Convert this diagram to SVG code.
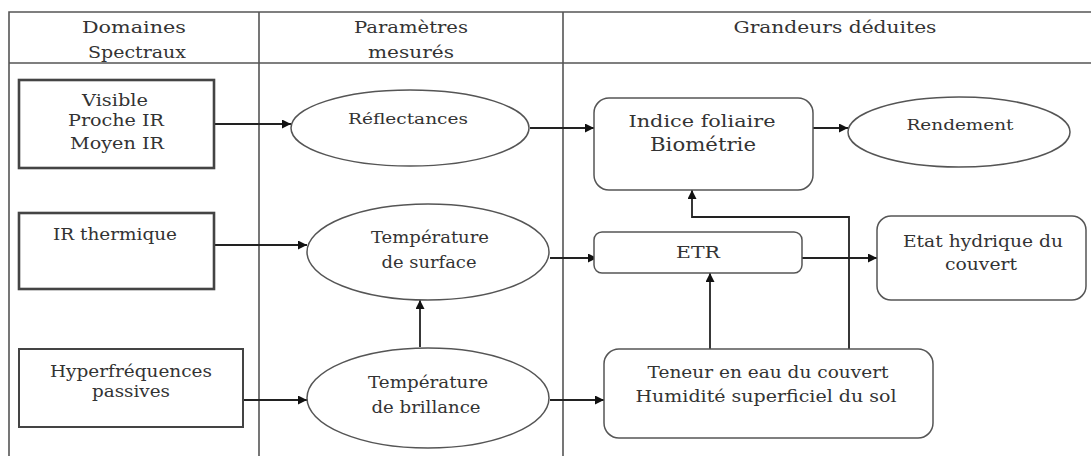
<svg xmlns="http://www.w3.org/2000/svg" width="1091" height="456" viewBox="0 0 1091 456">
  <defs>
    <marker id="arrow" viewBox="0 0 10 10" refX="10" refY="5" markerWidth="11" markerHeight="9" markerUnits="userSpaceOnUse" orient="auto">
      <path d="M0,0 L10,5 L0,10 Z" fill="#111"/>
    </marker>
    <style>
      .lbl { font-size: 16.5px; fill: #333; text-anchor: middle; }
      .grid { stroke: #555; stroke-width: 1.6; fill: none; }
      .src { fill: #fff; stroke: #444; stroke-width: 2.6; }
      .src-thin { fill: #fff; stroke: #444; stroke-width: 2; }
      .ell { fill: #fff; stroke: #555; stroke-width: 1.5; }
      .rbox { fill: #fff; stroke: #555; stroke-width: 1.5; }
      .conn { stroke: #222; stroke-width: 1.8; fill: none; marker-end: url(#arrow); }
      .small { font-size: 15px; }
      .big { font-size: 18.5px; }
    </style>
  </defs>

  <rect width="1091" height="456" fill="#fff"/>

  <g font-family="DejaVu Serif, serif">
  <!-- table frame and column headers -->
  <g id="table">
    <path class="grid" d="M9,456 V12 H1091 M9,63 H1091 M259,12 V456 M563,12 V456"/>
    <text class="lbl" x="134" y="33" textLength="104" lengthAdjust="spacingAndGlyphs">Domaines</text>
    <text class="lbl" x="137" y="58" textLength="98" lengthAdjust="spacingAndGlyphs">Spectraux</text>
    <text class="lbl" x="411" y="33" textLength="114" lengthAdjust="spacingAndGlyphs">Paramètres</text>
    <text class="lbl" x="411" y="58" textLength="86" lengthAdjust="spacingAndGlyphs">mesurés</text>
    <text class="lbl" x="835" y="33" textLength="203" lengthAdjust="spacingAndGlyphs">Grandeurs déduites</text>
  </g>

  <!-- connectors -->
  <g id="connectors">
    <line class="conn" x1="214" y1="124" x2="291" y2="124"/>
    <line class="conn" x1="530" y1="128" x2="594" y2="128"/>
    <line class="conn" x1="813" y1="128" x2="848" y2="128"/>
    <line class="conn" x1="214" y1="245" x2="307" y2="245"/>
    <line class="conn" x1="550" y1="258" x2="597" y2="258"/>
    <line class="conn" x1="802" y1="258" x2="877" y2="258"/>
    <line class="conn" x1="420" y1="347" x2="420" y2="300"/>
    <line class="conn" x1="243" y1="400" x2="307" y2="400"/>
    <line class="conn" x1="550" y1="400" x2="604" y2="400"/>
    <line class="conn" x1="710" y1="349" x2="710" y2="273"/>
    <polyline class="conn" points="849,349 849,217 692,217 692,190"/>
  </g>

  <!-- spectral domains -->
  <g id="visible">
    <rect class="src" x="19" y="80" width="195" height="88"/>
    <text class="lbl" x="115" y="106" textLength="66" lengthAdjust="spacingAndGlyphs">Visible</text>
    <text class="lbl" x="116" y="126" textLength="96" lengthAdjust="spacingAndGlyphs">Proche IR</text>
    <text class="lbl" x="117" y="149" textLength="94" lengthAdjust="spacingAndGlyphs">Moyen IR</text>
  </g>
  <g id="ir-thermique">
    <rect class="src" x="19" y="213" width="195" height="76"/>
    <text class="lbl" x="115" y="240" textLength="124" lengthAdjust="spacingAndGlyphs">IR thermique</text>
  </g>
  <g id="hyperfrequences">
    <rect class="src-thin" x="19" y="349" width="224" height="78"/>
    <text class="lbl" x="131" y="377" textLength="162" lengthAdjust="spacingAndGlyphs">Hyperfréquences</text>
    <text class="lbl" x="131" y="397" textLength="78" lengthAdjust="spacingAndGlyphs">passives</text>
  </g>

  <!-- measured parameters -->
  <g id="reflectances">
    <ellipse class="ell" cx="410" cy="128" rx="119" ry="38"/>
    <text class="lbl small" x="408" y="124" textLength="120" lengthAdjust="spacingAndGlyphs">Réflectances</text>
  </g>
  <g id="temperature-surface">
    <ellipse class="ell" cx="428" cy="252" rx="121" ry="48"/>
    <text class="lbl" x="430" y="243" textLength="118" lengthAdjust="spacingAndGlyphs">Température</text>
    <text class="lbl" x="429" y="268" textLength="95" lengthAdjust="spacingAndGlyphs">de surface</text>
  </g>
  <g id="temperature-brillance">
    <ellipse class="ell" cx="428" cy="398" rx="121" ry="50"/>
    <text class="lbl" x="428" y="388" textLength="120" lengthAdjust="spacingAndGlyphs">Température</text>
    <text class="lbl" x="426" y="413" textLength="109" lengthAdjust="spacingAndGlyphs">de brillance</text>
  </g>

  <!-- derived quantities -->
  <g id="indice-foliaire">
    <rect class="rbox" x="594" y="98" width="219" height="92" rx="15"/>
    <text class="lbl" x="702" y="127" textLength="147" lengthAdjust="spacingAndGlyphs">Indice foliaire</text>
    <text class="lbl big" x="703" y="151" textLength="106" lengthAdjust="spacingAndGlyphs">Biométrie</text>
  </g>
  <g id="rendement">
    <ellipse class="ell" cx="959" cy="132" rx="111" ry="35"/>
    <text class="lbl small" x="960" y="130" textLength="107" lengthAdjust="spacingAndGlyphs">Rendement</text>
  </g>
  <g id="etr">
    <rect class="rbox" x="594" y="232" width="208" height="41" rx="8"/>
    <text class="lbl" x="698" y="258" textLength="44" lengthAdjust="spacingAndGlyphs">ETR</text>
  </g>
  <g id="etat-hydrique">
    <rect class="rbox" x="877" y="216" width="209" height="84" rx="14"/>
    <text class="lbl" x="983" y="247" textLength="160" lengthAdjust="spacingAndGlyphs">Etat hydrique du</text>
    <text class="lbl" x="981" y="270" textLength="72" lengthAdjust="spacingAndGlyphs">couvert</text>
  </g>
  <g id="teneur-eau">
    <rect class="rbox" x="604" y="349" width="329" height="89" rx="15"/>
    <text class="lbl" x="768" y="378" textLength="241" lengthAdjust="spacingAndGlyphs">Teneur en eau du couvert</text>
    <text class="lbl" x="766" y="402" textLength="261" lengthAdjust="spacingAndGlyphs">Humidité superficiel du sol</text>
  </g>
  </g>
</svg>
